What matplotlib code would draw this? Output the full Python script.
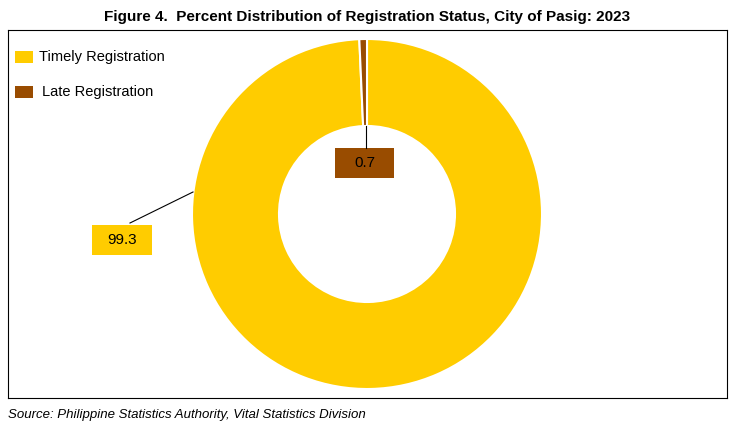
import matplotlib.pyplot as plt
from matplotlib.patches import Rectangle

categories = ["Timely Registration", "Late Registration"]
values = [99.3, 0.7]
colors = ["#FFCC00", "#994C00"]

fig = plt.figure(figsize=(7.35, 4.28), dpi=100)
W, H = 735, 428
x0, y0, x1, y1 = 8, 30, 727, 398
ax = fig.add_axes([x0/W, (H-y1)/H, (x1-x0)/W, (y1-y0)/H])
ax.set_xlim(0, x1-x0); ax.set_ylim(0, y1-y0)
ax.set_xticks([]); ax.set_yticks([])
for s in ax.spines.values():
    s.set_linewidth(0.8); s.set_color("black")

def P(x, y):
    return (x - x0, y1 - y)

cx, cy = P(367, 214)
ax.pie(values, colors=colors, startangle=90, counterclock=False, center=(cx, cy),
       radius=175, wedgeprops=dict(width=87, edgecolor="white", linewidth=1.5), frame=True)
ax.set_xlim(0, x1-x0); ax.set_ylim(0, y1-y0)
ax.set_xticks([]); ax.set_yticks([])

# leader lines
ax.plot(*zip(P(130, 223), P(193, 192)), color="black", lw=0.8)
ax.plot(*zip(P(366, 126), P(366, 148)), color="black", lw=0.8)
# label boxes
bx, by = P(92, 255)
ax.add_patch(Rectangle((bx, by), 60, 30, facecolor=colors[0], edgecolor="none"))
ax.text(bx+30, by+15, f"{values[0]}", ha="center", va="center", fontsize=11, family="Liberation Sans")
bx, by = P(335, 178)
ax.add_patch(Rectangle((bx, by), 59, 30, facecolor=colors[1], edgecolor="none"))
ax.text(bx+29.5, by+15, f"{values[1]}", ha="center", va="center", fontsize=11, family="Liberation Sans")

# legend
for i, (lab, c) in enumerate(zip(categories, colors)):
    yy = 57 + i*35
    lx, ly = P(15, yy+6)
    ax.add_patch(Rectangle((lx, ly), 18, 12, facecolor=c, edgecolor="none"))
    tx, ty = P(39 + (3 if i else 0), yy)
    ax.text(tx, ty, lab, ha="left", va="center", fontsize=10.5, family="Liberation Sans")

fig.text(367/W, 1-17/H, "Figure 4.  Percent Distribution of Registration Status, City of Pasig: 2023",
         ha="center", va="center", fontsize=11, fontweight="bold", family="Liberation Sans")
fig.text(8/W, 1-415/H, "Source: Philippine Statistics Authority, Vital Statistics Division",
         ha="left", va="center", fontsize=9.5, style="italic", family="Liberation Sans")
fig.savefig("out.png", dpi=100)
